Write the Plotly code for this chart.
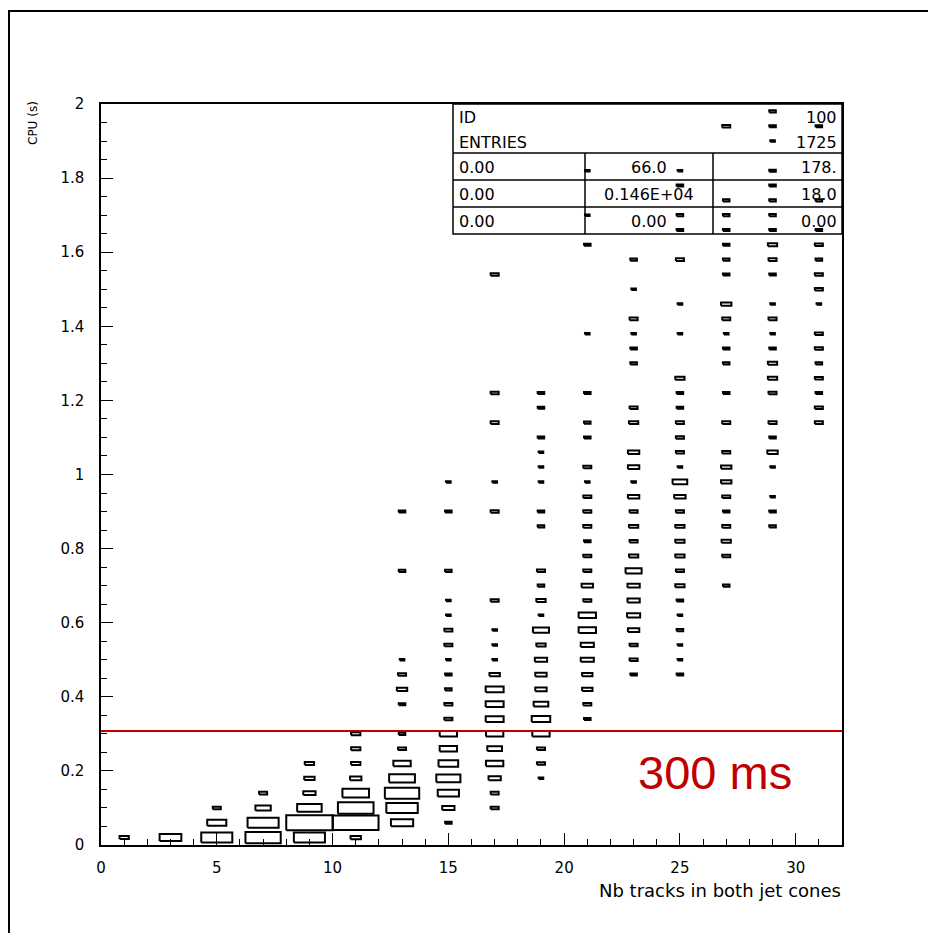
import math
import plotly.graph_objects as go

# ---------------- data (counts per 2-track x bin, 0.04 s y bins) ----------------
x01_y = [0.02]
x01_n = [4]
x03_y = [0.02]
x03_n = [22]
x05_y = [0.02, 0.06, 0.10]
x05_n = [45, 17, 3]
x07_y = [0.02, 0.06, 0.10, 0.14]
x07_n = [58, 45, 11, 3]
x09_y = [0.02, 0.06, 0.10, 0.14, 0.18, 0.22]
x09_n = [45, 100, 28, 7, 5, 4]
x11_y = [0.02, 0.06, 0.10, 0.14, 0.18, 0.22, 0.26, 0.30]
x11_n = [5, 97, 59, 33, 6, 4, 4, 4]
x13_y = [0.06, 0.10, 0.14, 0.18, 0.22, 0.26, 0.30, 0.38, 0.42, 0.46, 0.50, 0.74, 0.90]
x13_n = [23, 46, 55, 31, 14, 3, 2, 2, 5, 3, 1, 2, 2]
x15_y = [0.06, 0.10, 0.14, 0.18, 0.22, 0.26, 0.30, 0.34, 0.38, 0.42, 0.46, 0.50, 0.54,
         0.58, 0.62, 0.66, 0.74, 0.90, 0.98]
x15_n = [2, 7, 21, 27, 18, 14, 14, 3, 3, 2, 2, 1, 3, 3, 1, 1, 2, 2, 1]
x17_y = [0.10, 0.14, 0.18, 0.22, 0.26, 0.30, 0.34, 0.38, 0.42, 0.46, 0.50, 0.54, 0.58,
         0.66, 0.90, 0.98, 1.14, 1.22, 1.54]
x17_n = [3, 3, 7, 14, 10, 14, 15, 15, 15, 5, 1, 1, 1, 3, 3, 1, 3, 3, 3]
x19_y = [0.18, 0.22, 0.26, 0.30, 0.34, 0.38, 0.42, 0.46, 0.50, 0.54, 0.58, 0.62, 0.66,
         0.70, 0.74, 0.86, 0.90, 0.98, 1.02, 1.06, 1.10, 1.18, 1.22]
x19_n = [1, 3, 3, 14, 16, 10, 6, 6, 7, 4, 12, 1, 4, 2, 3, 2, 2, 1, 1, 1, 2, 2, 2]
x21_y = [0.34, 0.38, 0.42, 0.46, 0.50, 0.54, 0.58, 0.62, 0.66, 0.70, 0.74, 0.78, 0.82,
         0.86, 0.90, 0.94, 0.98, 1.02, 1.10, 1.14, 1.22, 1.38, 1.62, 1.70, 1.82]
x21_n = [2, 3, 5, 5, 8, 8, 14, 14, 3, 6, 3, 3, 2, 3, 3, 3, 1, 3, 2, 2, 2, 1, 2, 1, 1]
x23_y = [0.46, 0.50, 0.54, 0.58, 0.62, 0.66, 0.70, 0.74, 0.78, 0.82, 0.86, 0.90, 0.94,
         0.98, 1.02, 1.06, 1.14, 1.18, 1.30, 1.34, 1.38, 1.42, 1.50, 1.58]
x23_n = [2, 3, 3, 6, 8, 7, 7, 12, 4, 3, 4, 3, 6, 1, 6, 6, 4, 3, 2, 2, 1, 3, 1, 2]
x25_y = [0.46, 0.50, 0.54, 0.58, 0.62, 0.66, 0.70, 0.74, 0.78, 0.82, 0.86, 0.90, 0.94,
         0.98, 1.02, 1.06, 1.10, 1.14, 1.18, 1.22, 1.26, 1.38, 1.46, 1.58, 1.66, 1.70,
         1.78, 1.82]
x25_n = [2, 1, 1, 2, 1, 2, 4, 3, 4, 4, 4, 3, 6, 10, 1, 3, 3, 3, 2, 2, 4, 1, 1, 3, 2, 2, 2, 1]
x27_y = [0.70, 0.78, 0.82, 0.86, 0.90, 0.94, 0.98, 1.02, 1.06, 1.14, 1.22, 1.30, 1.34,
         1.38, 1.42, 1.46, 1.54, 1.58, 1.62, 1.66, 1.70, 1.74, 1.94]
x27_n = [2, 3, 4, 3, 2, 3, 5, 5, 3, 3, 2, 2, 2, 1, 3, 5, 2, 2, 2, 2, 2, 2, 3]
x29_y = [0.86, 0.90, 0.94, 1.02, 1.06, 1.10, 1.14, 1.22, 1.26, 1.30, 1.34, 1.38, 1.42,
         1.46, 1.54, 1.58, 1.62, 1.66, 1.70, 1.74, 1.78, 1.82, 1.90, 1.94, 1.98]
x29_n = [2, 2, 1, 1, 5, 2, 3, 3, 4, 4, 2, 1, 3, 1, 2, 3, 4, 2, 2, 2, 2, 2, 1, 2, 2]
x31_y = [1.14, 1.18, 1.22, 1.26, 1.30, 1.34, 1.38, 1.46, 1.50, 1.54, 1.58, 1.62, 1.66,
         1.74, 1.94]
x31_n = [3, 3, 2, 3, 2, 3, 3, 1, 3, 3, 2, 3, 2, 2, 2]

x_centres = [1, 3, 5, 7, 9, 11, 13, 15, 17, 19, 21, 23, 25, 27, 29, 31]
y_lists = [x01_y, x03_y, x05_y, x07_y, x09_y, x11_y, x13_y, x15_y,
           x17_y, x19_y, x21_y, x23_y, x25_y, x27_y, x29_y, x31_y]
n_lists = [x01_n, x03_n, x05_n, x07_n, x09_n, x11_n, x13_n, x15_n,
           x17_n, x19_n, x21_n, x23_n, x25_n, x27_n, x29_n, x31_n]

x_tick_vals = [0, 5, 10, 15, 20, 25, 30]
y_tick_vals = [0, 0.2, 0.4, 0.6, 0.8, 1, 1.2, 1.4, 1.6, 1.8, 2]
threshold_s = 0.308

stats_rows = [["0.00", "66.0", "178."],
              ["0.00", "0.146E+04", "18.0"],
              ["0.00", "0.00", "0.00"]]
hist_id = "100"
entries = "1725"

# ---------------- geometry ----------------
W, H = 928, 933
L, R, T, B = 101, 842, 104, 845


def px(xp):
    return (xp - L) / (R - L)


def py(yp):
    return (B - yp) / (B - T)


X_BIN = 2.0
Y_BIN = 0.04
n_max = max(max(n) for n in n_lists)

bx, by = [], []
for xc, ys, ns in zip(x_centres, y_lists, n_lists):
    for yc, n in zip(ys, ns):
        f = math.sqrt(n / n_max)
        dx = 0.5 * X_BIN * f
        dy = 0.5 * Y_BIN * f
        bx += [xc - dx, xc + dx, xc + dx, xc - dx, xc - dx, None]
        by += [yc - dy, yc - dy, yc + dy, yc + dy, yc - dy, None]

fig = go.Figure()
fig.add_trace(go.Scatter(x=bx, y=by, mode="lines",
                         line=dict(color="black", width=2),
                         hoverinfo="skip", showlegend=False))

FONT = "DejaVu Sans"
shapes = []
annotations = []

# outer frame
shapes.append(dict(type="rect", xref="paper", yref="paper",
                   x0=px(9), x1=px(1100), y0=py(1100), y1=py(11),
                   line=dict(color="black", width=2), layer="below"))

# stats box
shapes.append(dict(type="rect", xref="paper", yref="paper",
                   x0=px(453), x1=px(842), y0=py(234), y1=py(104),
                   line=dict(color="black", width=1.5), fillcolor="white", layer="below"))
for yy in (153, 180, 207):
    shapes.append(dict(type="line", xref="paper", yref="paper",
                       x0=px(453), x1=px(842), y0=py(yy), y1=py(yy),
                       line=dict(color="black", width=1.5), layer="below"))
for xx in (585, 713):
    shapes.append(dict(type="line", xref="paper", yref="paper",
                       x0=px(xx), x1=px(xx), y0=py(234), y1=py(153),
                       line=dict(color="black", width=1.5), layer="below"))

sfont = dict(family=FONT, size=16, color="black")


def txt(text, xp, yp, xanchor, font=sfont):
    annotations.append(dict(text=text, xref="paper", yref="paper",
                            x=px(xp), y=py(yp), xanchor=xanchor, yanchor="middle",
                            showarrow=False, font=font))


txt("ID", 457, 117, "left")
txt("ENTRIES", 457, 142, "left")
txt(hist_id, 839, 117, "right")
txt(entries, 839, 142, "right")
for row, yy in zip(stats_rows, (167, 194, 221)):
    txt(row[0], 457, yy, "left")
    txt(row[1], 649, yy, "center")
    txt(row[2], 839, yy, "right")

# threshold line + label
shapes.append(dict(type="line", xref="x", yref="y", x0=0, x1=32,
                   y0=threshold_s, y1=threshold_s,
                   line=dict(color="#c00000", width=2)))
txt("300 ms", 715, 772, "center",
    font=dict(family="Liberation Sans", size=47, color="#c00000"))

# axis titles
txt("Nb tracks in both jet cones", 843, 891, "right",
    font=dict(family=FONT, size=18, color="black"))
annotations.append(dict(text="CPU (s)", xref="paper", yref="paper",
                        x=px(33), y=py(99), xanchor="center", yanchor="top",
                        textangle=-90, showarrow=False,
                        font=dict(family=FONT, size=12, color="black")))

axis_common = dict(showgrid=False, zeroline=False, showline=True,
                   linecolor="black", linewidth=1.5, mirror=True,
                   ticks="inside", ticklen=12, tickwidth=1.3, tickcolor="black",
                   tickfont=dict(family=FONT, size=15, color="black"))

fig.update_layout(
    width=W, height=H,
    margin=dict(l=L, r=W - R, t=T, b=H - B),
    paper_bgcolor="white", plot_bgcolor="white",
    xaxis=dict(range=[0, 32], tickvals=x_tick_vals,
               minor=dict(dtick=1, ticklen=6, tickwidth=1.3, tickcolor="black", ticks="inside"),
               ticklabelstandoff=8, **axis_common),
    yaxis=dict(range=[0, 2], tickvals=y_tick_vals,
               minor=dict(dtick=0.05, ticklen=6, tickwidth=1.3, tickcolor="black", ticks="inside"),
               ticklabelstandoff=12, **axis_common),
    shapes=shapes,
    annotations=annotations,
    showlegend=False,
)

fig.write_html("out.html")
